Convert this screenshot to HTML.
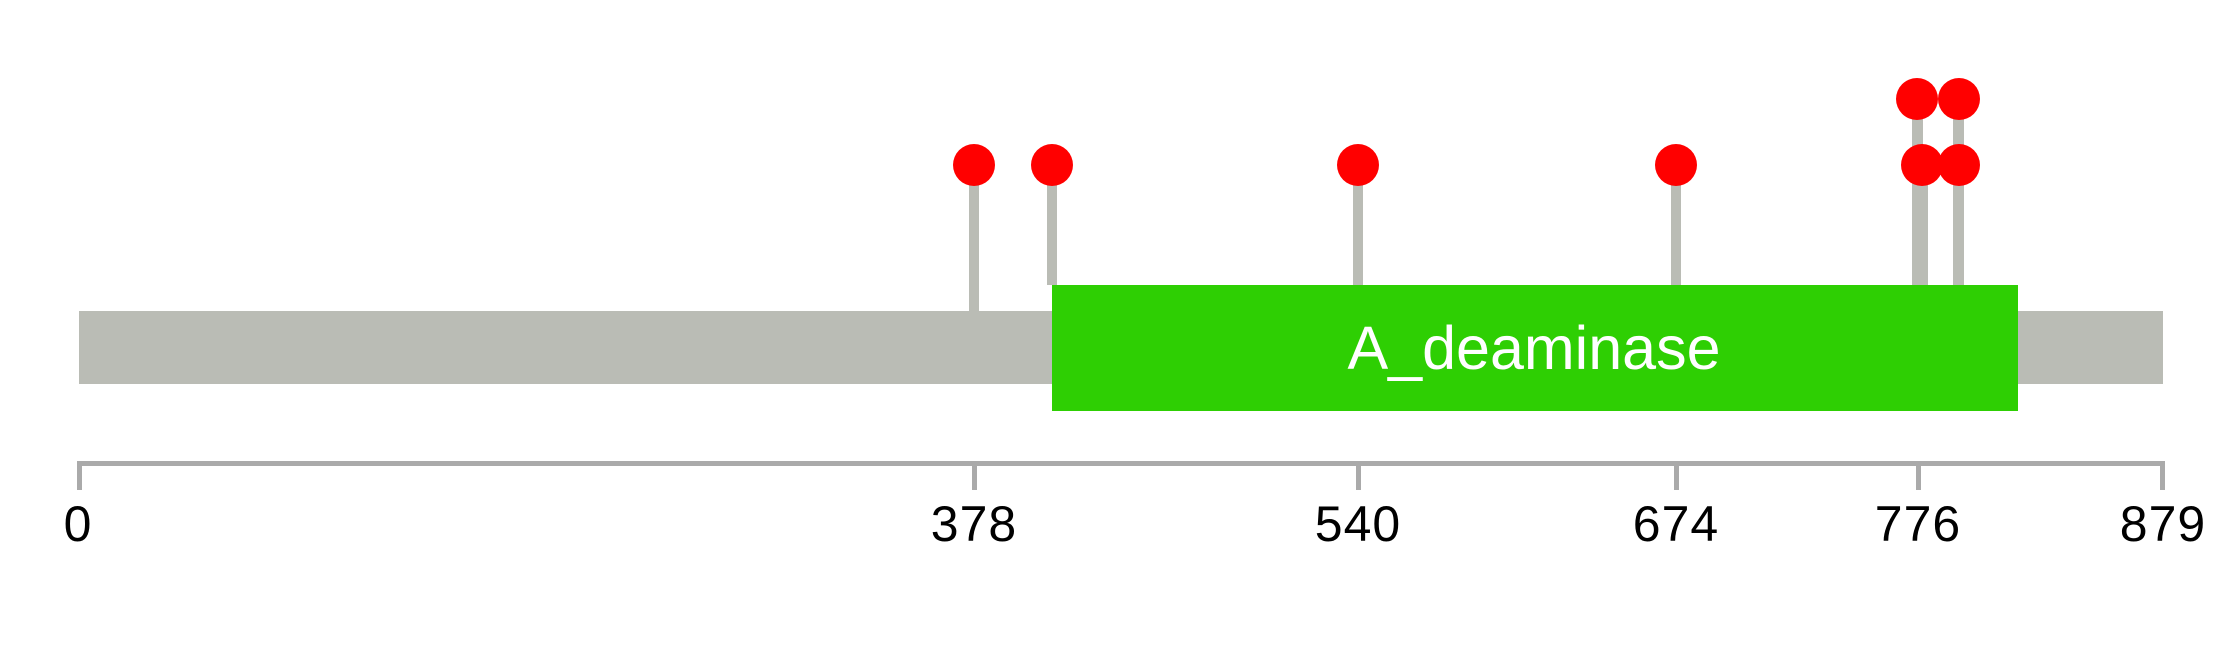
<!DOCTYPE html>
<html><head><meta charset="utf-8"><style>
html,body{margin:0;padding:0;background:#fff;}
svg{display:block;}
text{font-family:"Liberation Sans",Arial,sans-serif;}
</style></head><body>
<svg width="2239" height="645" viewBox="0 0 2239 645" xmlns="http://www.w3.org/2000/svg">
<rect x="0" y="0" width="2239" height="645" fill="#fff"/>
<g fill="#babcb5">
<rect x="969" y="165" width="10" height="146"/>
<rect x="1047" y="165" width="10" height="120"/>
<rect x="1353" y="165" width="10" height="120"/>
<rect x="1671" y="165" width="10" height="120"/>
<rect x="1912" y="99" width="11" height="186"/>
<rect x="1918" y="165" width="10" height="120"/>
<rect x="1953" y="99" width="11" height="186"/>
</g>
<rect x="79" y="311" width="2084" height="73" fill="#babcb5"/>
<rect x="1052" y="285" width="966" height="126" fill="#2ecf03"/>
<text x="1534" y="369" font-size="61" fill="#fff" text-anchor="middle">A_deaminase</text>
<g fill="#ff0000">
<circle cx="974" cy="165" r="21"/>
<circle cx="1052" cy="165" r="21"/>
<circle cx="1358" cy="165" r="21"/>
<circle cx="1676" cy="165" r="21"/>
<circle cx="1917" cy="99" r="21"/>
<circle cx="1959" cy="99" r="21"/>
<circle cx="1922" cy="165" r="21"/>
<circle cx="1959" cy="165" r="21"/>
</g>
<g fill="#aaaaaa">
<rect x="77" y="461" width="2088" height="5"/>
<rect x="77" y="461" width="5" height="29"/>
<rect x="972" y="461" width="5" height="29"/>
<rect x="1356" y="461" width="5" height="29"/>
<rect x="1674" y="461" width="5" height="29"/>
<rect x="1916" y="461" width="5" height="29"/>
<rect x="2160" y="461" width="5" height="29"/>
</g>
<g font-size="50" fill="#000" text-anchor="middle" letter-spacing="1">
<text x="78" y="541">0</text>
<text x="974" y="541">378</text>
<text x="1358" y="541">540</text>
<text x="1676" y="541">674</text>
<text x="1918" y="541">776</text>
<text x="2163" y="541">879</text>
</g>
</svg>
</body></html>
